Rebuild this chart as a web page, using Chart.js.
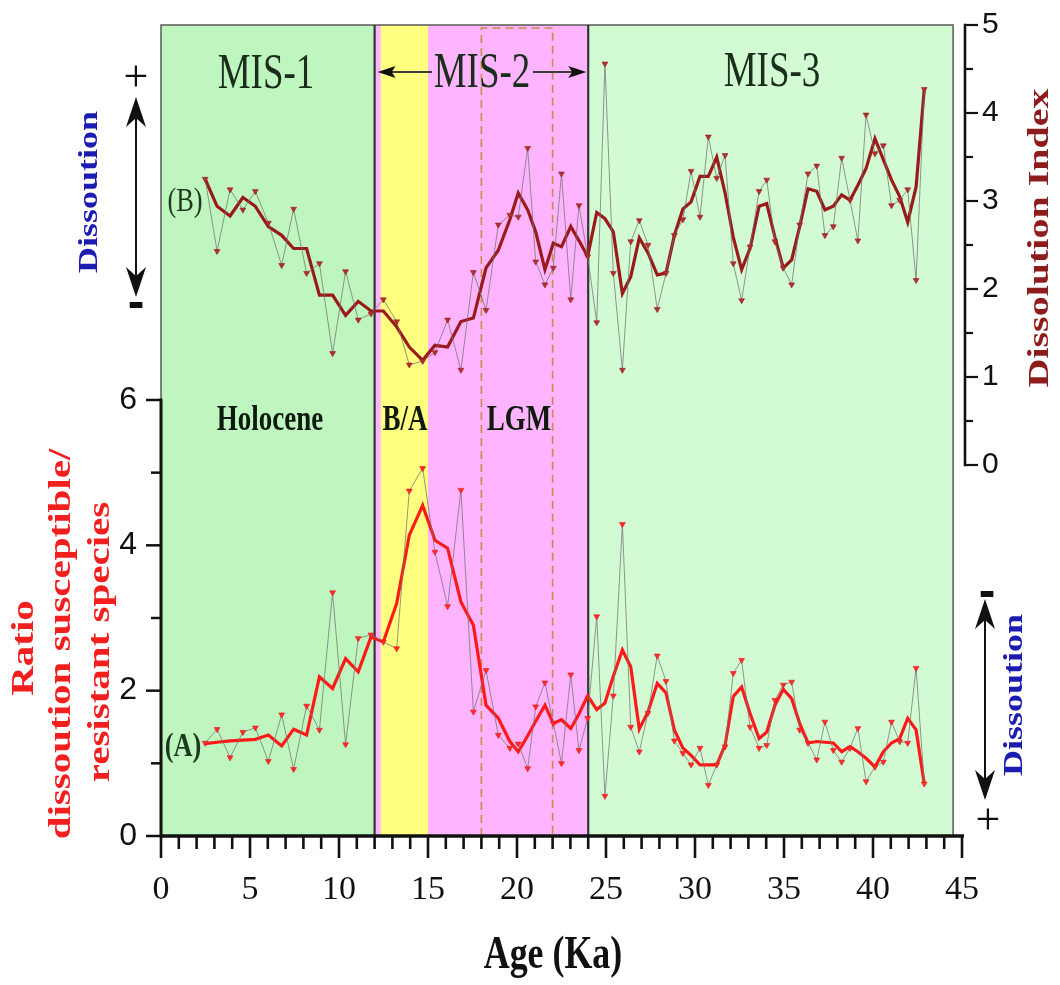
<!DOCTYPE html>
<html><head><meta charset="utf-8">
<script src="https://cdn.jsdelivr.net/npm/chart.js@4.4.1/dist/chart.umd.min.js"></script>
<style>html,body{margin:0;padding:0;background:#fff;}canvas{display:block;}</style>
</head><body>
<canvas id="c" width="1060" height="985"></canvas>
<script>
// ---- data ----
const ages = [2.48, 3.15, 3.88, 4.6, 5.3, 6.03, 6.78, 7.45, 8.18, 8.9,
  9.64, 10.37, 11.08, 11.8, 12.49, 13.24, 13.95, 14.7, 15.39, 16.1,
  16.85, 17.55, 18.26, 18.95, 19.6, 20.07, 20.6, 21.05, 21.57, 22.04,
  22.5, 23.02, 23.48, 23.97, 24.48, 24.94, 25.41, 25.92, 26.39, 26.87,
  27.36, 27.88, 28.37, 28.84, 29.32, 29.78, 30.28, 30.75, 31.22, 31.69,
  32.15, 32.62, 33.09, 33.6, 34.03, 34.49, 34.96, 35.43, 35.88, 36.35,
  36.84, 37.3, 37.77, 38.24, 38.71, 39.15, 39.61, 40.11, 40.58, 41.04,
  41.5, 41.95, 42.42, 42.88];

const ratioRaw = [1.28, 1.47, 1.08, 1.43, 1.49, 1.03, 1.67, 0.92, 1.79, 1.46,
  3.35, 1.26, 2.72, 2.77, 2.67, 2.58, 4.75, 5.06, 3.91, 3.16,
  4.76, 1.71, 2.28, 1.39, 1.21, 1.27, 0.93, 1.78, 2.11, 1.55,
  1.0, 2.22, 1.18, 1.62, 3.02, 0.55, 1.93, 4.29, 1.5, 1.16,
  1.69, 2.48, 2.13, 1.31, 1.14, 0.98, 1.21, 0.70, 0.98, 1.23,
  2.24, 2.42, 1.5, 1.21, 1.25, 1.87, 2.08, 2.12, 1.46, 1.28,
  1.05, 1.57, 1.18, 1.02, 1.21, 1.48, 0.75, 0.95, 1.02, 1.57,
  1.3, 1.28, 2.31, 0.72];

const ratioSmooth = [1.27, 1.29, 1.31, 1.32, 1.33, 1.39, 1.24, 1.47, 1.39, 2.19,
  2.03, 2.44, 2.26, 2.74, 2.67, 3.2, 4.14, 4.55, 4.07, 3.96,
  3.22, 2.9, 1.8, 1.62, 1.3, 1.16, 1.38, 1.58, 1.8, 1.55,
  1.6, 1.48, 1.68, 1.93, 1.74, 1.83, 2.2, 2.56, 2.33, 1.47,
  1.71, 2.1, 1.97, 1.46, 1.21, 1.11, 0.98, 0.98, 0.98, 1.25,
  1.92, 2.05, 1.69, 1.34, 1.43, 1.8, 2.02, 1.89, 1.55, 1.28,
  1.3, 1.29, 1.28, 1.16, 1.23, 1.16, 1.07, 0.95, 1.16, 1.28,
  1.34, 1.62, 1.46, 0.72];

const dissRaw = [3.25, 2.43, 3.13, 2.9, 3.11, 2.75, 2.27, 2.91, 2.18, 2.29,
  1.27, 2.2, 1.65, 1.72, 1.88, 1.63, 1.14, 1.18, 1.28, 1.65,
  1.08, 2.19, 1.76, 2.73, 2.84, 2.82, 3.6, 2.31, 2.05, 2.24,
  3.31, 1.88, 2.95, 2.37, 1.62, 4.56, 2.18, 1.08, 2.54, 2.78,
  2.5, 1.77, 2.18, 2.61, 2.79, 3.34, 2.82, 3.73, 3.26, 3.52,
  2.29, 1.87, 2.48, 3.11, 3.24, 2.54, 2.24, 2.05, 2.73, 3.31,
  3.4, 2.61, 2.71, 3.49, 3.01, 2.55, 3.98, 3.54, 3.63, 2.95,
  3.01, 3.13, 2.1, 4.27];

const dissSmooth = [3.25, 2.94, 2.83, 3.04, 2.94, 2.71, 2.61, 2.46, 2.46, 1.93,
  1.93, 1.7, 1.86, 1.75, 1.75, 1.57, 1.34, 1.19, 1.36, 1.34,
  1.63, 1.67, 2.24, 2.44, 2.79, 3.09, 2.9, 2.65, 2.22, 2.52,
  2.48, 2.71, 2.55, 2.37, 2.87, 2.8, 2.65, 1.95, 2.14, 2.58,
  2.41, 2.16, 2.18, 2.61, 2.91, 2.99, 3.28, 3.28, 3.5, 3.09,
  2.59, 2.22, 2.46, 2.94, 2.97, 2.59, 2.24, 2.33, 2.71, 3.14,
  3.11, 2.9, 2.94, 3.07, 3.01, 3.18, 3.37, 3.71, 3.47, 3.24,
  3.05, 2.76, 3.16, 4.27];

const xTickValues = [0, 5, 10, 15, 20, 25, 30, 35, 40, 45];
const xTickLabels = ['0', '5', '10', '15', '20', '25', '30', '35', '40', '45'];
const ratioTickValues = [0, 2, 4, 6];
const ratioTickLabels = ['0', '2', '4', '6'];
const dissTickValues = [0, 1, 2, 3, 4, 5];
const dissTickLabels = ['0', '1', '2', '3', '4', '5'];

// period boundaries (ka)
const zoneAges = [0, 12, 12.35, 15, 24, 44.5];
const lgmAges = [18, 22];
const misDividers = [12, 24];

// ---- styling ----
const SERIF = "'Liberation Serif','Times New Roman',serif";
const SANS = "'Liberation Sans',Arial,sans-serif";
const zoneFills = ['#bff6bf', '#ffb4ff', '#ffff80', '#ffb4ff', '#d3fbd3'];

function pts(vals) { return ages.map((a, i) => ({ x: a, y: vals[i] })); }

function txt(ctx, s, x, y, font, color, sx, rot, baseline) {
  ctx.save();
  ctx.translate(x, y);
  ctx.scale(sx || 1, 1);
  if (rot) ctx.rotate(rot);
  ctx.font = font;
  ctx.fillStyle = color;
  ctx.textAlign = 'center';
  ctx.textBaseline = baseline || 'alphabetic';
  ctx.fillText(s, 0, 0);
  ctx.restore();
}

function head(ctx, tx, ty, dx, dy, len, hw, notch) {
  const bx = tx - dx * len, by = ty - dy * len;
  const nx = tx - dx * (len - notch), ny = ty - dy * (len - notch);
  const px = -dy, py = dx;
  ctx.beginPath();
  ctx.moveTo(tx, ty);
  ctx.lineTo(bx + px * hw, by + py * hw);
  ctx.lineTo(nx, ny);
  ctx.lineTo(bx - px * hw, by - py * hw);
  ctx.closePath();
  ctx.fill();
}

function seg(ctx, x0, y0, x1, y1) {
  ctx.beginPath(); ctx.moveTo(x0, y0); ctx.lineTo(x1, y1); ctx.stroke();
}

const zonesPlugin = {
  id: 'zones',
  beforeDatasetsDraw(chart) {
    const { ctx, chartArea: ca, scales: { x } } = chart;
    ctx.save();
    for (let i = 0; i < zoneFills.length; i++) {
      const x0 = x.getPixelForValue(zoneAges[i]);
      const x1 = x.getPixelForValue(zoneAges[i + 1]);
      ctx.fillStyle = zoneFills[i];
      ctx.fillRect(x0, ca.top, x1 - x0, ca.bottom - ca.top);
    }
    const e0 = x.getPixelForValue(zoneAges[0]);
    const e1 = x.getPixelForValue(zoneAges[zoneAges.length - 1]);
    ctx.strokeStyle = '#5a5a5a'; ctx.lineWidth = 1.5;
    ctx.strokeRect(e0, ca.top, e1 - e0, ca.bottom - ca.top);
    // LGM dashed box
    const l0 = x.getPixelForValue(lgmAges[0]), l1 = x.getPixelForValue(lgmAges[1]);
    ctx.strokeStyle = '#c98a4a'; ctx.lineWidth = 1.6; ctx.setLineDash([8, 5]);
    ctx.beginPath();
    ctx.moveTo(l0, ca.bottom); ctx.lineTo(l0, ca.top + 3);
    ctx.lineTo(l1, ca.top + 3); ctx.lineTo(l1, ca.bottom);
    ctx.stroke();
    ctx.setLineDash([]);
    // MIS dividers
    ctx.strokeStyle = '#353535'; ctx.lineWidth = 2.2;
    for (const a of misDividers) {
      const p = x.getPixelForValue(a);
      seg(ctx, p, ca.top, p, ca.bottom);
    }
    ctx.restore();
  }
};

const overlayPlugin = {
  id: 'overlay',
  afterDraw(chart) {
    const { ctx, chartArea: ca, scales: { x, yA, yB } } = chart;
    ctx.save();
    ctx.strokeStyle = '#111'; ctx.fillStyle = '#111';
    // x axis
    const y0 = ca.bottom;
    ctx.lineWidth = 3.5;
    seg(ctx, ca.left, y0, x.getPixelForValue(45) + 2, y0);
    ctx.lineWidth = 2.6;
    for (let v = 0; v <= 45; v++) {
      const p = x.getPixelForValue(v);
      seg(ctx, p, y0, p, y0 + (v % 5 === 0 ? 22 : 13));
    }
    // left axis (ratio), 0..6
    const ax = ca.left;
    ctx.lineWidth = 3;
    seg(ctx, ax, yA.getPixelForValue(0) + 1.5, ax, yA.getPixelForValue(6) - 1.5);
    ctx.lineWidth = 2.5;
    for (let v = 0; v <= 6; v++) {
      const p = yA.getPixelForValue(v);
      seg(ctx, ax, p, ax - (v % 2 === 0 ? 15 : 10), p);
    }
    // right axis (dissolution index), 0..5
    const bx = ca.right + 3;
    ctx.lineWidth = 2.6;
    seg(ctx, bx, yB.getPixelForValue(0) + 1.2, bx, yB.getPixelForValue(5) - 1.2);
    ctx.lineWidth = 2.2;
    for (let k = 0; k <= 10; k++) {
      const v = k / 2;
      const p = yB.getPixelForValue(v);
      seg(ctx, bx, p, bx + (k % 2 === 0 ? 13 : 8), p);
    }

    // MIS labels
    const misFont = '50px ' + SERIF, misCol = '#1b2e1b';
    txt(ctx, 'MIS-1', 266, 88, misFont, misCol, 0.74);
    txt(ctx, 'MIS-2', 482, 87, misFont, misCol, 0.74);
    txt(ctx, 'MIS-3', 772, 86, misFont, misCol, 0.74);
    // MIS-2 arrow
    const la = x.getPixelForValue(12) + 3, ra = x.getPixelForValue(24) - 2, ay = 72;
    ctx.strokeStyle = '#3c3c3c'; ctx.lineWidth = 2;
    seg(ctx, la + 10, ay, 432, ay);
    seg(ctx, 533, ay, ra - 10, ay);
    ctx.fillStyle = '#111';
    head(ctx, la, ay, -1, 0, 18, 6, 4);
    head(ctx, ra, ay, 1, 0, 18, 6, 4);

    // period labels
    const pf = 'bold 36px ' + SERIF, pc = '#0f1a0f';
    txt(ctx, 'Holocene', 270, 430, pf, pc, 0.75);
    txt(ctx, 'B/A', 405, 430, pf, pc, 0.75);
    txt(ctx, 'LGM', 519, 430, pf, pc, 0.75);

    // series labels
    txt(ctx, '(B)', 185, 211, '33px ' + SERIF, '#1e3a1e', 0.8);
    txt(ctx, '(A)', 183, 756, 'bold 33px ' + SERIF, '#1e3a1e', 0.8);

    // x title
    txt(ctx, 'Age (Ka)', 553, 968, 'bold 46px ' + SERIF, '#111', 0.78);

    // left titles
    const rf = 'bold 41px ' + SERIF, rc = '#f21f1f', R = -Math.PI / 2;
    txt(ctx, 'Ratio', 25, 648, rf, rc, 0.75, R, 'middle');
    txt(ctx, 'dissoution susceptible/', 62, 644, rf, rc, 0.75, R, 'middle');
    txt(ctx, 'resistant species', 101, 642, rf, rc, 0.75, R, 'middle');
    // right title
    txt(ctx, 'Dissolution Index', 1040, 238, 'bold 40px ' + SERIF, '#8e1c1c', 0.75, R, 'middle');

    // dissolution arrows
    const df = 'bold 36px ' + SERIF, dc = '#1c1cb0';
    txt(ctx, 'Dissoution', 90, 192, df, dc, 0.75, R, 'middle');
    txt(ctx, 'Dissoution', 1015, 695, df, dc, 0.75, R, 'middle');
    ctx.strokeStyle = '#111'; ctx.fillStyle = '#111'; ctx.lineWidth = 2;
    seg(ctx, 136, 110, 136, 285);
    head(ctx, 136, 97, 0, -1, 30, 10, 9);
    head(ctx, 136, 297, 0, 1, 30, 10, 9);
    seg(ctx, 985, 612, 985, 788);
    head(ctx, 985, 599, 0, -1, 30, 10, 9);
    head(ctx, 985, 800, 0, 1, 30, 10, 9);
    txt(ctx, '+', 136, 79, '44px ' + SERIF, '#111', 1, 0, 'middle');
    txt(ctx, '-', 136, 304, 'bold 50px ' + SANS, '#111', 1, 0, 'middle');
    txt(ctx, '-', 987, 593, 'bold 50px ' + SANS, '#111', 1, 0, 'middle');
    txt(ctx, '+', 988, 822, '44px ' + SERIF, '#111', 1, 0, 'middle');
    ctx.restore();
  }
};

const rawLine = 'rgba(115,115,115,0.75)';

function fixY(width) {
  return s => { s.width = width; s.paddingTop = 0; s.paddingBottom = 0; };
}

new Chart(document.getElementById('c'), {
  type: 'line',
  data: {
    datasets: [
      { label: 'Ratio (raw)', data: pts(ratioRaw), yAxisID: 'yA', order: 0,
        borderColor: rawLine, borderWidth: 1, tension: 0,
        pointStyle: 'triangle', rotation: 180, pointRadius: 3.4,
        pointBackgroundColor: '#ff2b2b', pointBorderColor: '#e01a1a', pointBorderWidth: 0.6 },
      { label: 'Dissolution index (raw)', data: pts(dissRaw), yAxisID: 'yB', order: 0,
        borderColor: rawLine, borderWidth: 1, tension: 0,
        pointStyle: 'triangle', rotation: 180, pointRadius: 3.4,
        pointBackgroundColor: '#b03030', pointBorderColor: '#962020', pointBorderWidth: 0.6 },
      { label: 'Ratio (smoothed)', data: pts(ratioSmooth), yAxisID: 'yA', order: 1,
        borderColor: '#ff1a1a', borderWidth: 3.2, tension: 0, pointRadius: 0 },
      { label: 'Dissolution index (smoothed)', data: pts(dissSmooth), yAxisID: 'yB', order: 1,
        borderColor: '#9a1a1a', borderWidth: 3.2, tension: 0, pointRadius: 0 }
    ]
  },
  options: {
    responsive: false, animation: false, devicePixelRatio: 1,
    layout: { padding: { top: 25, left: 0, right: 0, bottom: 0 } },
    plugins: { legend: { display: false }, tooltip: { enabled: false } },
    scales: {
      x: {
        type: 'linear', position: 'bottom', min: 0, max: 45,
        afterFit: s => { s.height = 985 - 836; },
        afterBuildTicks: s => { s.ticks = xTickValues.map(v => ({ value: v })); },
        grid: { display: false, drawTicks: false }, border: { display: false },
        ticks: { autoSkip: false, maxRotation: 0, padding: 34, color: '#111',
          font: { family: SERIF, size: 34 },
          callback: v => xTickLabels[xTickValues.indexOf(v)] }
      },
      yA: {
        type: 'linear', position: 'left', min: 0, max: 11.16,
        afterFit: fixY(161),
        afterBuildTicks: s => { s.ticks = ratioTickValues.map(v => ({ value: v })); },
        grid: { display: false, drawTicks: false }, border: { display: false },
        ticks: { autoSkip: false, padding: 24, color: '#111',
          font: { family: SANS, size: 32 },
          callback: v => ratioTickLabels[ratioTickValues.indexOf(v)] }
      },
      yB: {
        type: 'linear', position: 'right', min: -4.216, max: 5,
        afterFit: fixY(98),
        afterBuildTicks: s => { s.ticks = dissTickValues.map(v => ({ value: v })); },
        grid: { display: false, drawTicks: false }, border: { display: false },
        ticks: { autoSkip: false, padding: 20, color: '#111',
          font: { family: SANS, size: 30 },
          callback: v => dissTickLabels[dissTickValues.indexOf(v)] }
      }
    }
  },
  plugins: [zonesPlugin, overlayPlugin]
});
</script>
</body></html>
